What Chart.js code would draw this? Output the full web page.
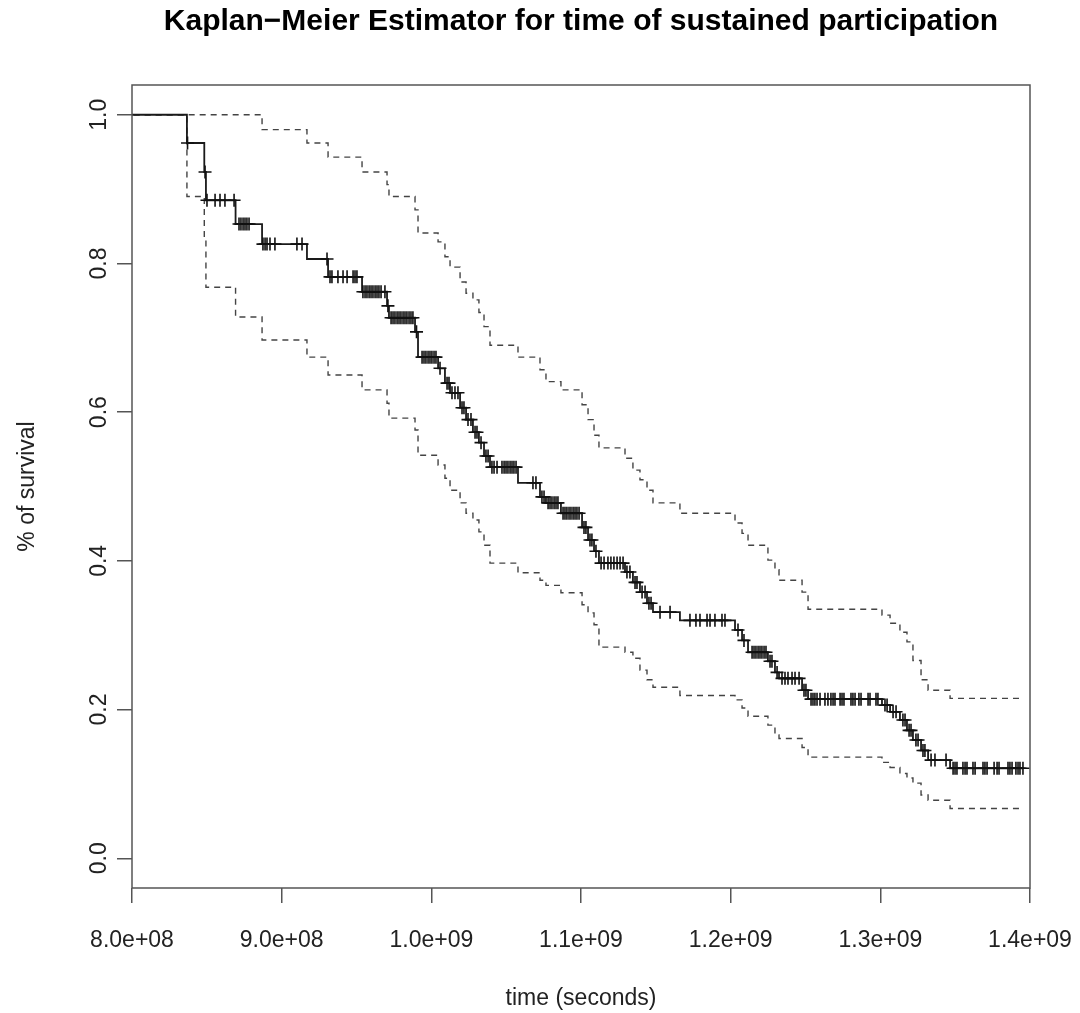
<!DOCTYPE html>
<html>
<head>
<meta charset="utf-8">
<title>Kaplan-Meier Estimator</title>
<script src="https://cdn.jsdelivr.net/npm/chart.js@4.4.1/dist/chart.umd.min.js"></script>
<style>
  html, body { margin: 0; padding: 0; background: #fff; }
  #wrap { width: 1080px; height: 1013px; }
</style>
</head>
<body>
<div id="wrap"><canvas id="kmChart"></canvas></div>
<script>
// all times are in millions of seconds (multiplied by 1e6 when plotted)
const TIME_UNIT = 1e6;

// event times where the survival curve steps down (first entry = start of follow-up)
const stepTimes = [0, 836.7, 848.3, 849.4, 869.2, 886.9, 916.9, 931.0, 953.7, 970.4, 971.7,
  989.1, 991.1, 1004.5, 1009.1, 1012.5, 1019.2, 1023.2, 1027.8, 1031.8, 1035.2,
  1039.2, 1057.9, 1072.6, 1076.6, 1086.6, 1100.7, 1104.7, 1108.7, 1112.0, 1129.4,
  1134.7, 1139.4, 1144.1, 1148.1, 1166.1, 1202.9, 1207.6, 1211.6, 1224.9, 1229.6,
  1232.3, 1247.7, 1251.7, 1301.1, 1306.5, 1313.1, 1317.8, 1321.8, 1327.2, 1331.9, 1346.6];

// survival estimate after each step
const survValues = [1, 0.962, 0.923, 0.885, 0.853, 0.826, 0.806, 0.782, 0.762, 0.743, 0.727,
  0.708, 0.674, 0.659, 0.639, 0.626, 0.606, 0.590, 0.573, 0.559, 0.541,
  0.526, 0.505, 0.486, 0.478, 0.464, 0.445, 0.428, 0.413, 0.397, 0.385,
  0.371, 0.358, 0.343, 0.331, 0.320, 0.307, 0.293, 0.277, 0.265, 0.250,
  0.242, 0.226, 0.214, 0.206, 0.197, 0.186, 0.172, 0.159, 0.145, 0.132, 0.121];

// upper / lower 95% confidence limits after each step
const upperValues = [1, 1, 1, 1, 1, 0.980, 0.962, 0.943, 0.923, 0.906, 0.890,
  0.872, 0.841, 0.829, 0.809, 0.795, 0.775, 0.760, 0.751, 0.734, 0.715,
  0.690, 0.674, 0.657, 0.641, 0.630, 0.610, 0.590, 0.569, 0.552, 0.538,
  0.522, 0.509, 0.495, 0.478, 0.464, 0.451, 0.437, 0.421, 0.401, 0.388,
  0.374, 0.358, 0.335, 0.327, 0.316, 0.304, 0.291, 0.266, 0.240, 0.226, 0.215];

const lowerValues = [1, 0.890, 0.832, 0.768, 0.728, 0.697, 0.674, 0.650, 0.630, 0.612, 0.592,
  0.576, 0.542, 0.529, 0.511, 0.495, 0.478, 0.464, 0.455, 0.439, 0.421,
  0.397, 0.384, 0.374, 0.367, 0.357, 0.341, 0.330, 0.314, 0.284, 0.277,
  0.269, 0.253, 0.240, 0.230, 0.219, 0.213, 0.202, 0.191, 0.179, 0.166,
  0.161, 0.149, 0.136, 0.129, 0.122, 0.114, 0.108, 0.101, 0.085, 0.078, 0.067];

// censored observations (drawn as +)
const censorTimes = [837.1, 848.8, 850.1, 855.5, 858.8, 862.1, 868.2, 871.5, 872.8, 874.2,
  875.5, 876.8, 878.2, 887.5, 888.9, 890.2, 892.2, 895.5, 910.2, 913.6,
  930.3, 932.3, 933.6, 937.6, 941.0, 943.7, 947.7, 949.0, 950.3, 954.3,
  955.7, 957.0, 958.4, 959.7, 961.0, 962.4, 963.7, 965.0, 966.4, 969.0,
  971.0, 973.1, 974.4, 975.7, 977.1, 978.4, 979.7, 981.1, 982.4, 983.7,
  985.1, 986.4, 987.7, 990.1, 993.8, 995.1, 996.4, 997.8, 999.1, 1000.4,
  1001.8, 1003.1, 1005.8, 1010.5, 1011.8, 1013.8, 1015.8, 1017.8, 1020.5, 1021.8,
  1024.5, 1026.5, 1029.2, 1030.5, 1033.2, 1036.5, 1037.9, 1040.5, 1041.9, 1043.9,
  1047.2, 1048.6, 1049.9, 1051.2, 1052.6, 1053.9, 1055.2, 1056.6, 1067.9, 1069.9,
  1073.9, 1075.3, 1078.0, 1079.3, 1080.6, 1082.0, 1083.3, 1084.6, 1088.0, 1089.3,
  1090.6, 1092.0, 1093.3, 1094.7, 1096.0, 1097.3, 1098.7, 1102.0, 1103.3, 1106.0,
  1107.3, 1110.0, 1113.4, 1115.4, 1118.0, 1120.0, 1122.0, 1124.1, 1126.1, 1128.1,
  1130.7, 1132.7, 1136.1, 1137.4, 1140.8, 1142.8, 1145.4, 1146.8, 1152.8, 1159.5,
  1172.8, 1176.8, 1179.5, 1184.2, 1186.2, 1189.5, 1194.2, 1196.2, 1204.9, 1208.9,
  1214.3, 1215.6, 1216.9, 1218.3, 1219.6, 1220.9, 1222.3, 1223.6, 1226.3, 1227.6,
  1231.0, 1234.3, 1236.3, 1238.3, 1241.0, 1243.0, 1245.7, 1249.0, 1250.3, 1253.7,
  1255.0, 1256.3, 1257.7, 1259.7, 1263.0, 1265.0, 1267.0, 1268.4, 1269.7, 1273.1,
  1274.4, 1275.7, 1280.4, 1281.7, 1283.1, 1285.7, 1287.1, 1291.8, 1293.1, 1297.1,
  1298.4, 1303.1, 1304.5, 1308.5, 1310.5, 1315.1, 1316.5, 1319.2, 1320.5, 1323.8,
  1325.2, 1328.5, 1329.8, 1333.9, 1336.5, 1343.9, 1348.6, 1349.9, 1351.2, 1355.2,
  1356.6, 1357.9, 1361.9, 1363.3, 1368.6, 1369.9, 1371.3, 1376.0, 1378.0, 1379.3,
  1385.3, 1386.6, 1388.0, 1390.6, 1392.0, 1393.3, 1395.3];

// last follow-up time (end of the curve)
const endTime = 1395.3;

const xMin = 8e8;
const xMax = 1.4e9;
const yTicks = [0, 0.2, 0.4, 0.6, 0.8, 1.0];

const FONT = "'Liberation Sans', Arial, Helvetica, sans-serif";
const TEXT_COLOR = '#222';
const AXIS_COLOR = '#555';

function stepSeries(values) {
    const pts = stepTimes.map((t, i) => ({ x: t * TIME_UNIT, y: values[i] }));
    pts.push({ x: endTime * TIME_UNIT, y: values[values.length - 1] });
    return pts;
}

// survival level in force at time t (used to place the censor marks on the curve)
function survAt(t) {
    let s = survValues[0];
    for (let i = 0; i < stepTimes.length; i++) {
        if (stepTimes[i] <= t) s = survValues[i];
    }
    return s;
}

function sciLabel(v) {
    // R style: 8.0e+08
    return Number(v).toExponential(1).replace(/e\+(\d)$/, 'e+0$1');
}

// box round the plotting region, like R's box()
const framePlugin = {
    id: 'frame',
    afterDatasetsDraw(chart) {
        const { ctx, chartArea: a } = chart;
        ctx.save();
        ctx.strokeStyle = AXIS_COLOR;
        ctx.lineWidth = 1.5;
        ctx.strokeRect(a.left, a.top, a.right - a.left, a.bottom - a.top);
        ctx.restore();
    }
};

Chart.defaults.font.family = FONT;
Chart.defaults.color = TEXT_COLOR;

const ctx = document.getElementById('kmChart').getContext('2d');
new Chart(ctx, {
    type: 'line',
    data: {
        datasets: [
            {
                label: 'censored',
                type: 'scatter',
                data: censorTimes.map(t => ({ x: t * TIME_UNIT, y: survAt(t) })),
                showLine: false,
                pointStyle: 'cross',
                pointRadius: 6.5,
                pointBorderWidth: 1.6,
                pointBorderColor: '#111',
                pointBackgroundColor: '#111'
            },
            {
                label: 'survival',
                data: stepSeries(survValues),
                stepped: 'before',
                borderColor: '#1a1a1a',
                borderWidth: 1.8,
                pointRadius: 0,
                fill: false
            },
            {
                label: 'upper 95% CI',
                data: stepSeries(upperValues),
                stepped: 'before',
                borderColor: '#444',
                borderWidth: 1.4,
                borderDash: [6, 5],
                pointRadius: 0,
                fill: false
            },
            {
                label: 'lower 95% CI',
                data: stepSeries(lowerValues),
                stepped: 'before',
                borderColor: '#444',
                borderWidth: 1.4,
                borderDash: [6, 5],
                pointRadius: 0,
                fill: false
            }
        ]
    },
    options: {
        responsive: true,
        maintainAspectRatio: false,
        animation: false,
        events: [],
        layout: { padding: { top: 0, left: 0, right: 50, bottom: 0 } },
        plugins: {
            legend: { display: false },
            tooltip: { enabled: false },
            title: {
                display: true,
                text: 'Kaplan\u2212Meier Estimator for time of sustained participation',
                color: '#000',
                fullSize: false,
                font: { size: 30, weight: 'bold' },
                padding: { top: 4, bottom: 45 }
            }
        },
        scales: {
            x: {
                type: 'linear',
                min: xMin,
                max: xMax,
                ticks: {
                    stepSize: 1e8,
                    autoSkip: false,
                    maxRotation: 0,
                    padding: 24,
                    font: { size: 23 },
                    color: TEXT_COLOR,
                    callback: v => sciLabel(v)
                },
                grid: {
                    drawOnChartArea: false,
                    drawTicks: true,
                    tickLength: 15,
                    color: AXIS_COLOR,
                    lineWidth: 1.5
                },
                border: { display: false },
                title: {
                    display: true,
                    text: 'time (seconds)',
                    color: TEXT_COLOR,
                    font: { size: 23 },
                    padding: { top: 0, bottom: 1 }
                },
                afterFit: s => {
                    s.height = 125;
                    s.paddingLeft = 0;
                    s.paddingRight = 0;
                }
            },
            y: {
                type: 'linear',
                min: -0.04,
                max: 1.04,
                afterBuildTicks: s => { s.ticks = yTicks.map(v => ({ value: v })); },
                ticks: {
                    autoSkip: false,
                    minRotation: 90,
                    maxRotation: 90,
                    crossAlign: 'center',
                    padding: 1,
                    font: { size: 23 },
                    color: TEXT_COLOR,
                    callback: v => Number(v).toFixed(1)
                },
                grid: {
                    drawOnChartArea: false,
                    drawTicks: true,
                    tickLength: 15,
                    color: AXIS_COLOR,
                    lineWidth: 1.5
                },
                border: { display: false },
                title: {
                    display: true,
                    text: '% of survival',
                    color: TEXT_COLOR,
                    font: { size: 23 },
                    padding: { top: 14, bottom: 0 }
                },
                afterFit: s => { s.width = 132; }
            }
        }
    },
    plugins: [framePlugin]
});
</script>
</body>
</html>
